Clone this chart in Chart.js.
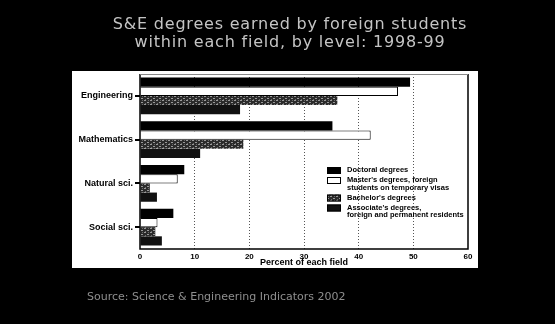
<!DOCTYPE html>
<html>
<head>
<meta charset="utf-8">
<script src="https://cdn.jsdelivr.net/npm/chart.js@4.4.1/dist/chart.umd.min.js"></script>
<style>
  html, body { margin: 0; padding: 0; background: #000; }
  #wrap { width: 555px; height: 324px; position: relative; }
</style>
</head>
<body>
<div id="wrap"><canvas id="c" width="555" height="324"></canvas></div>
<script>
// Chart text
const titleLines = ['S&E degrees earned by foreign students', 'within each field, by level: 1998-99'];
const sourceNote = 'Source: Science & Engineering Indicators 2002';
const xTitle = 'Percent of each field';

// Fields (one group of bars each)
const fields = ['Engineering', 'Mathematics', 'Natural sci.', 'Social sci.'];

// Degree levels (legend entries; arrays are multi-line labels)
const levelNames = [
  ['Doctoral degrees'],
  ["Master's degrees, foreign", 'students on temporary visas'],
  ["Bachelor's degrees"],
  ["Associate's degrees,", 'foreign and permanent residents']
];

// Percent of each field's degrees earned by foreign students
const doctoral   = [49.4, 35.2, 8.1, 6.1];
const masters    = [47.2, 42.2, 6.9, 3.2];
const bachelors  = [36.1, 18.9, 1.8, 2.8];
const associates = [18.3, 11.0, 3.1, 4.0];

// Value axis ticks
const xTicks = [0, 10, 20, 30, 40, 50, 60];

// speckled dark fill for the third level
function speckle() {
  const p = document.createElement('canvas');
  p.width = 6; p.height = 4;
  const g = p.getContext('2d');
  g.fillStyle = '#2b2b2b';
  g.fillRect(0, 0, 6, 4);
  g.fillStyle = '#9a9a9a';
  g.fillRect(0, 0, 2, 1);
  g.fillRect(3, 2, 2, 1);
  g.fillStyle = '#6a6a6a';
  g.fillRect(4, 0, 1, 1);
  g.fillRect(1, 3, 1, 1);
  return g.createPattern(p, 'repeat');
}

const FONT = '"Liberation Sans", Arial, sans-serif';

const backdrop = {
  id: 'backdrop',
  beforeDraw(chart) {
    const ctx = chart.ctx;
    ctx.save();
    ctx.fillStyle = '#000';
    ctx.fillRect(0, 0, chart.width, chart.height);
    // white panel behind the plot
    ctx.fillStyle = '#fff';
    ctx.fillRect(72, 71, 406, 197);
    // headline
    ctx.fillStyle = '#c4c4c4';
    ctx.font = '16px "DejaVu Sans", sans-serif';
    ctx.letterSpacing = '0.8px';
    ctx.textAlign = 'center';
    ctx.textBaseline = 'middle';
    ctx.fillText(titleLines[0], 290, 25);
    ctx.fillText(titleLines[1], 290, 43);
    // source line
    ctx.letterSpacing = '0px';
    ctx.fillStyle = '#8e8e8e';
    ctx.font = '11px "DejaVu Sans", sans-serif';
    ctx.textAlign = 'left';
    ctx.fillText(sourceNote, 87, 297);
    ctx.restore();
  },
  afterDatasetsDraw(chart) {
    const ctx = chart.ctx;
    const a = chart.chartArea;
    ctx.save();
    // plot frame
    ctx.strokeStyle = '#000';
    ctx.lineWidth = 1.5;
    ctx.beginPath();
    ctx.moveTo(a.left, a.top);
    ctx.lineTo(a.left, a.bottom);
    ctx.lineTo(a.right, a.bottom);
    ctx.lineTo(a.right, a.top);
    ctx.stroke();
    ctx.strokeStyle = '#888';
    ctx.lineWidth = 1;
    ctx.beginPath();
    ctx.moveTo(a.left, a.top + 0.5);
    ctx.lineTo(a.right, a.top + 0.5);
    ctx.stroke();
    // legend
    const lx = a.left + 187;
    let ly = a.top + 96;
    ctx.font = 'bold 7.5px ' + FONT;
    ctx.textBaseline = 'middle';
    ctx.textAlign = 'left';
    chart.data.datasets.forEach((ds) => {
      ctx.fillStyle = ds.backgroundColor;
      ctx.fillRect(lx, ly - 3, 14, 7);
      ctx.strokeStyle = '#000';
      ctx.lineWidth = 1;
      ctx.strokeRect(lx + 0.5, ly - 2.5, 13, 6);
      ctx.fillStyle = '#000';
      ds.label.forEach((t, i) => ctx.fillText(t, lx + 20, ly + i * 7.5));
      ly += ds.label.length * 7.5 + 2.5;
    });
    ctx.restore();
  }
};

new Chart(document.getElementById('c'), {
  type: 'bar',
  data: {
    labels: fields,
    datasets: [
      { label: levelNames[0], data: doctoral,   backgroundColor: '#000' },
      { label: levelNames[1], data: masters,    backgroundColor: '#fff', borderColor: '#000', borderWidth: 1 },
      { label: levelNames[2], data: bachelors,  backgroundColor: speckle() },
      { label: levelNames[3], data: associates, backgroundColor: '#111' }
    ]
  },
  plugins: [backdrop],
  options: {
    indexAxis: 'y',
    responsive: false,
    devicePixelRatio: 1,
    animation: false,
    categoryPercentage: 0.84,
    barPercentage: 1.0,
    layout: { padding: { left: 72, right: 87, top: 74, bottom: 56 } },
    plugins: {
      legend: { display: false },
      title: { display: false },
      tooltip: { enabled: false }
    },
    scales: {
      x: {
        type: 'linear',
        min: xTicks[0],
        max: xTicks[xTicks.length - 1],
        afterBuildTicks(s) { s.ticks = xTicks.map(v => ({ value: v })); },
        afterFit(s) { s.height = 19; },
        grid: {
          drawTicks: false,
          color: (c) => (c.tick && (c.tick.value === xTicks[0] || c.tick.value === xTicks[xTicks.length - 1])) ? 'rgba(0,0,0,0)' : '#555',
          lineWidth: 1
        },
        border: { display: false, dash: [1, 2] },
        ticks: { color: '#000', font: { family: FONT, size: 8, weight: 'bold' }, padding: 3 },
        title: { display: true, text: xTitle, color: '#000', font: { family: FONT, size: 9, weight: 'bold' }, padding: { top: 0, bottom: 0 } }
      },
      y: {
        afterFit(s) { s.width = 68; },
        grid: { drawOnChartArea: false, drawTicks: true, tickLength: 5, offset: false, color: '#000', lineWidth: 2 },
        border: { display: false },
        ticks: { color: '#000', font: { family: FONT, size: 9, weight: 'bold' }, padding: 2 }
      }
    }
  }
});
</script>
</body>
</html>
